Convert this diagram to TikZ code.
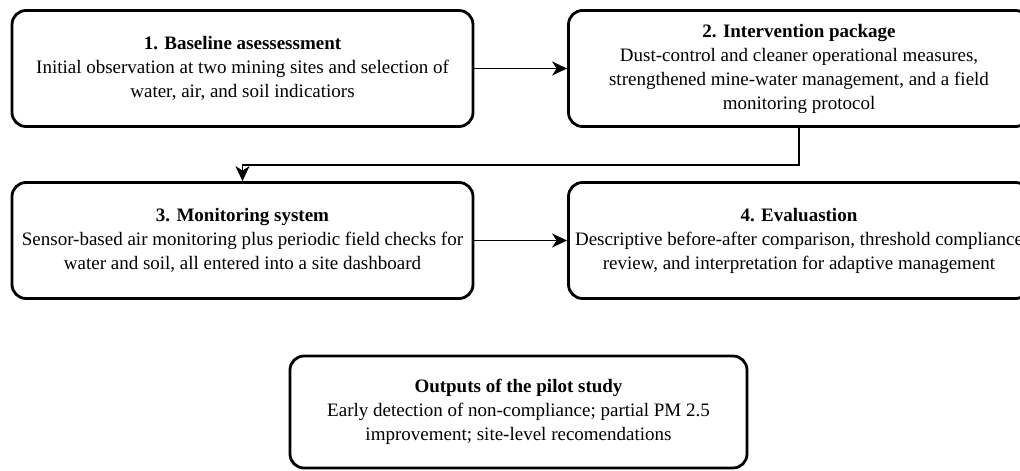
\documentclass[tikz,border=0pt]{standalone}
\usepackage{fontspec}
\setmainfont{Liberation Serif}
\usetikzlibrary{arrows.meta}
\begin{document}
\begin{tikzpicture}[x=1pt,y=-1pt,
  box/.style={draw, line width=2.8pt, rounded corners=14pt, minimum width=461pt, minimum height=116pt,
    align=center, font=\fontsize{19}{24}\selectfont, inner sep=0pt},
  conn/.style={line width=1.4pt, -{Stealth[length=15pt,width=14pt,inset=4.5pt]}}]
\useasboundingbox (0,0) rectangle (1020,471);
\clip (0,0) rectangle (1020,471);
\node[box] (b1) at (242.5,68.5) {\textbf{1. Baseline asessessment}\\Initial observation at two mining sites and selection of\\water, air, and soil indicatiors};
\node[box] (b2) at (799,68.5) {\textbf{2. Intervention package}\\Dust-control and cleaner operational measures,\\strengthened mine-water management, and a field\\monitoring protocol};
\node[box] (b3) at (242.5,240.5) {\textbf{3. Monitoring system}\\Sensor-based air monitoring plus periodic field checks for\\water and soil, all entered into a site dashboard};
\node[box] (b4) at (799,240.5) {\textbf{4. Evaluastion}\\Descriptive before-after comparison, threshold compliance\\review, and interpretation for adaptive management};
\node[box, minimum width=457pt, minimum height=112pt] (b5) at (518.5,412) {\textbf{Outputs of the pilot study}\\Early detection of non-compliance; partial PM 2.5\\improvement; site-level recomendations};
\draw[conn] (b1.east) -- (b2.west);
\draw[conn] (b2.south) -- ++(0,37) -| (b3.north);
\draw[conn] (b3.east) -- (b4.west);
\end{tikzpicture}
\end{document}
